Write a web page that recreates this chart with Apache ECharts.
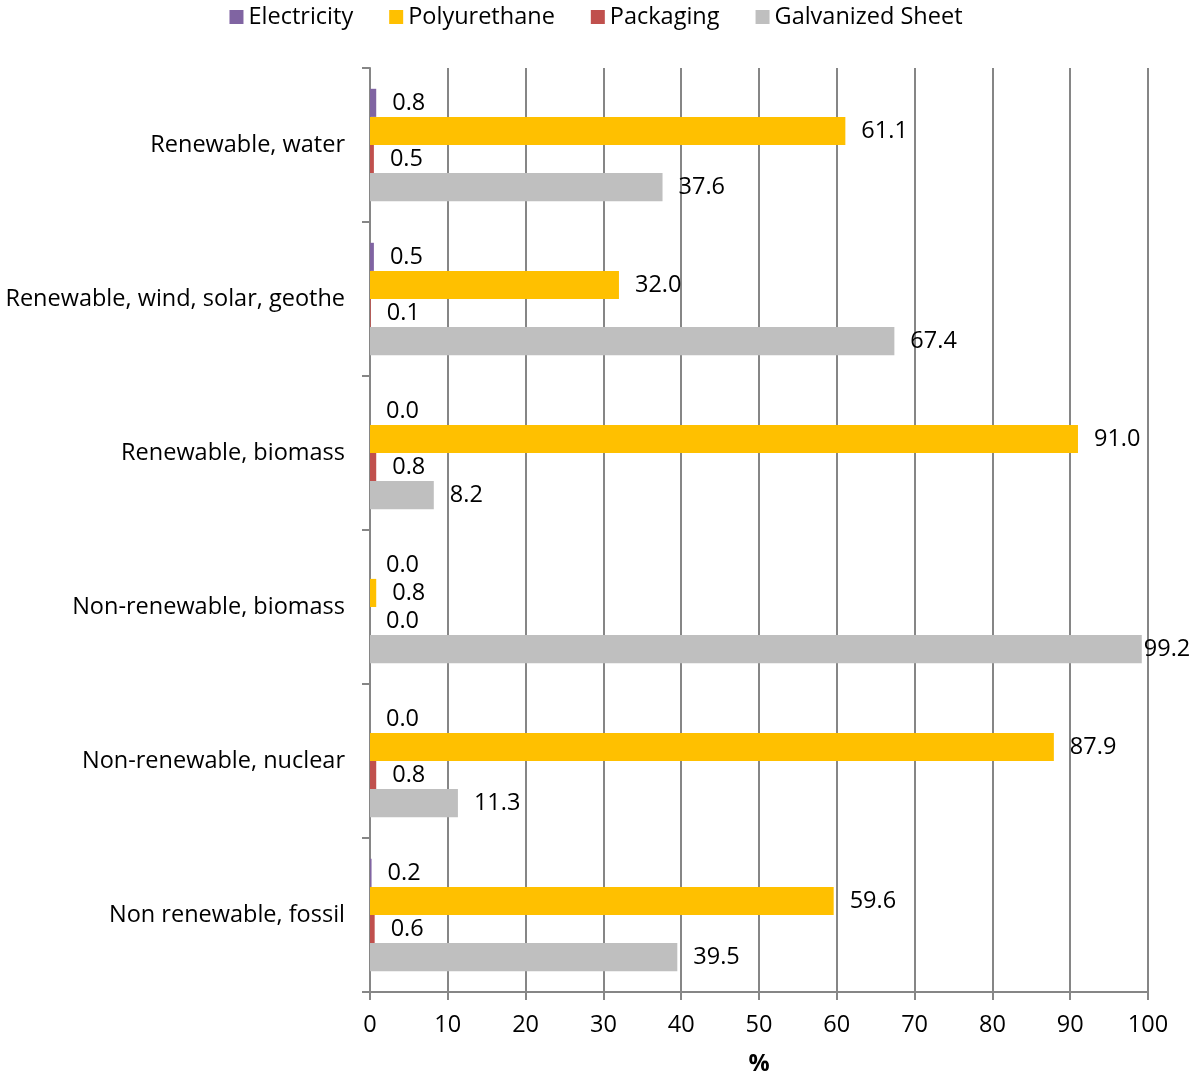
<!DOCTYPE html>
<html>
<head>
<meta charset="utf-8">
<script src="https://cdn.jsdelivr.net/npm/echarts@6/dist/echarts.min.js"></script>
<style>
  html, body { margin: 0; padding: 0; background: #fff; }
  #chart { width: 1192px; height: 1077px; }
</style>
</head>
<body>
<div id="chart"></div>
<script>
// Energy source categories, listed top to bottom
const categories = [
  'Renewable, water',
  'Renewable, wind, solar, geothe',
  'Renewable, biomass',
  'Non-renewable, biomass',
  'Non-renewable, nuclear',
  'Non renewable, fossil'
];

// Share (%) of each source by component
const electricity   = [0.8, 0.5, 0.0, 0.0, 0.0, 0.2];
const polyurethane  = [61.1, 32.0, 91.0, 0.8, 87.9, 59.6];
const packaging     = [0.5, 0.1, 0.8, 0.0, 0.8, 0.6];
const galvanized    = [37.6, 67.4, 8.2, 99.2, 11.3, 39.5];

const xTicks = [0, 10, 20, 30, 40, 50, 60, 70, 80, 90, 100];

const FONT = '"Open Sans", "Noto Sans", sans-serif';
const FS = 23.5;
const X_MAX = xTicks[xTicks.length - 1];

function makeSeries(name, data, color) {
  return {
    name: name,
    type: 'bar',
    // labels of bars reaching the right edge sit tight against the bar end
    data: data.map(v => v > X_MAX - 5 ? { value: v, label: { distance: 2 } } : v),
    barGap: '0%',
    barCategoryGap: '27%',
    itemStyle: { color: color },
    label: {
      show: true,
      position: 'right',
      distance: 16,
      formatter: p => Number(p.value).toFixed(1),
      color: '#000',
      fontFamily: FONT,
      fontSize: FS
    }
  };
}

const chart = echarts.init(document.getElementById('chart'));
chart.setOption({
  animation: false,
  legend: {
    top: 0,
    left: 'center',
    itemWidth: 14,
    itemHeight: 14,
    itemGap: 36,
    icon: 'rect',
    textStyle: { fontFamily: FONT, fontSize: FS, color: '#000' },
    data: ['Electricity', 'Polyurethane', 'Packaging', 'Galvanized Sheet']
  },
  grid: { left: 370, right: 44, top: 68, bottom: 85, containLabel: false, outerBoundsMode: 'none' },
  xAxis: {
    type: 'value',
    min: xTicks[0],
    max: X_MAX,
    interval: 10,
    name: '%',
    nameLocation: 'middle',
    nameGap: 60,
    nameTextStyle: { fontFamily: FONT, fontSize: FS, fontWeight: 'bold', color: '#000' },
    axisLine: { show: true, lineStyle: { color: '#868686', width: 2 } },
    axisTick: { show: true, length: 8, lineStyle: { color: '#868686', width: 2 } },
    axisLabel: { fontFamily: FONT, fontSize: FS, color: '#000', margin: 21 },
    splitLine: { show: true, lineStyle: { color: '#868686', width: 2 } }
  },
  yAxis: {
    type: 'category',
    inverse: true,
    data: categories,
    axisLine: { show: true, lineStyle: { color: '#868686', width: 2 } },
    axisTick: { show: true, length: 8, lineStyle: { color: '#868686', width: 2 } },
    axisLabel: { fontFamily: FONT, fontSize: FS, color: '#000', margin: 25 },
    splitLine: { show: false }
  },
  series: [
    makeSeries('Electricity', electricity, '#8064A2'),
    makeSeries('Polyurethane', polyurethane, '#FFC000'),
    makeSeries('Packaging', packaging, '#C0504D'),
    makeSeries('Galvanized Sheet', galvanized, '#BFBFBF')
  ]
});
</script>
</body>
</html>
